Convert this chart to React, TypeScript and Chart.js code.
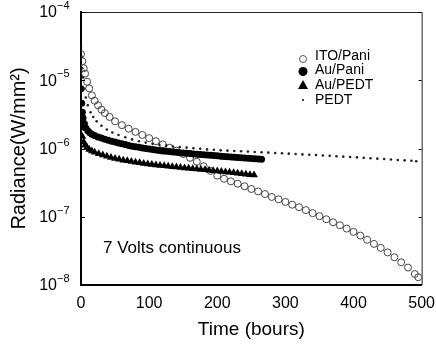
import React, { useEffect, useRef } from 'react';
import { Chart, registerables } from 'chart.js';

Chart.register(...registerables);

// ---- Data ----
const itoPaniTime = [0, 2, 4, 6, 9, 12, 16, 20, 25, 30, 35, 42, 50, 60, 70, 80, 90, 100, 110, 120, 130, 140, 150, 160, 170, 180, 190, 200, 210, 220, 230, 240, 250, 260, 270, 280, 290, 300, 310, 320, 330, 340, 350, 360, 370, 380, 390, 400, 410, 420, 430, 440, 450, 460, 470, 480, 490, 495];
const itoPaniValue = [2.4e-5, 1.9e-5, 1.5e-5, 1.25e-5, 9.5e-6, 7.6e-6, 6.0e-6, 5.0e-6, 4.3e-6, 3.7e-6, 3.3e-6, 2.9e-6, 2.5e-6, 2.2e-6, 1.95e-6, 1.75e-6, 1.58e-6, 1.42e-6, 1.28e-6, 1.15e-6, 1.03e-6, 9.3e-7, 8.3e-7, 7.3e-7, 6.4e-7, 5.5e-7, 4.7e-7, 4.0e-7, 3.6e-7, 3.3e-7, 3.05e-7, 2.8e-7, 2.55e-7, 2.35e-7, 2.15e-7, 1.95e-7, 1.8e-7, 1.65e-7, 1.5e-7, 1.38e-7, 1.25e-7, 1.13e-7, 1.02e-7, 9.2e-8, 8.3e-8, 7.5e-8, 6.7e-8, 6.0e-8, 5.3e-8, 4.6e-8, 4.0e-8, 3.5e-8, 3.0e-8, 2.55e-8, 2.15e-8, 1.8e-8, 1.45e-8, 1.3e-8];

const auPaniTime = [0, 1, 2, 3, 5, 7, 10, 13, 16, 20, 25, 30, 35, 40, 45, 50, 55, 60, 65, 70, 75, 80, 85, 90, 95, 100, 105, 110, 115, 120, 125, 130, 135, 140, 145, 150, 155, 160, 165, 170, 175, 180, 185, 190, 195, 200, 205, 210, 215, 220, 225, 230, 235, 240, 245, 250, 255, 260, 265];
const auPaniValue = [7.5e-6, 4.6e-6, 3.4e-6, 2.8e-6, 2.3e-6, 2.0e-6, 1.82e-6, 1.7e-6, 1.62e-6, 1.55e-6, 1.48e-6, 1.42e-6, 1.37e-6, 1.32e-6, 1.28e-6, 1.24e-6, 1.2e-6, 1.17e-6, 1.14e-6, 1.11e-6, 1.08e-6, 1.06e-6, 1.04e-6, 1.02e-6, 1.0e-6, 9.8e-7, 9.65e-7, 9.5e-7, 9.35e-7, 9.2e-7, 9.1e-7, 9.0e-7, 8.9e-7, 8.8e-7, 8.7e-7, 8.6e-7, 8.5e-7, 8.42e-7, 8.34e-7, 8.26e-7, 8.18e-7, 8.1e-7, 8.02e-7, 7.95e-7, 7.88e-7, 7.8e-7, 7.73e-7, 7.66e-7, 7.6e-7, 7.53e-7, 7.46e-7, 7.4e-7, 7.33e-7, 7.27e-7, 7.2e-7, 7.14e-7, 7.08e-7, 7.02e-7, 6.96e-7];

const auPedtTime = [0, 1, 2, 4, 6, 9, 12, 16, 20, 26, 32, 38, 44, 50, 56, 62, 68, 74, 80, 86, 92, 98, 104, 110, 116, 122, 128, 134, 140, 146, 152, 158, 164, 170, 176, 182, 188, 194, 200, 206, 212, 218, 224, 230, 236, 242, 248, 254];
const auPedtValue = [3.5e-6, 2.0e-6, 1.5e-6, 1.25e-6, 1.12e-6, 1.03e-6, 9.7e-7, 9.2e-7, 8.8e-7, 8.4e-7, 8.0e-7, 7.7e-7, 7.4e-7, 7.15e-7, 6.95e-7, 6.75e-7, 6.6e-7, 6.45e-7, 6.3e-7, 6.2e-7, 6.05e-7, 5.95e-7, 5.85e-7, 5.75e-7, 5.65e-7, 5.58e-7, 5.5e-7, 5.42e-7, 5.35e-7, 5.28e-7, 5.2e-7, 5.13e-7, 5.07e-7, 5.0e-7, 4.94e-7, 4.88e-7, 4.8e-7, 4.74e-7, 4.67e-7, 4.6e-7, 4.53e-7, 4.47e-7, 4.4e-7, 4.34e-7, 4.27e-7, 4.2e-7, 4.14e-7, 4.08e-7];

const pedtTime = [0, 1, 2, 3, 5, 7, 10, 14, 18, 23, 30, 38, 46, 55, 65, 75, 85, 95, 105, 115, 125, 135, 145, 155, 165, 175, 185, 195, 205, 215, 225, 235, 245, 255, 265, 275, 285, 295, 305, 315, 325, 335, 345, 355, 365, 375, 385, 395, 405, 415, 425, 435, 445, 455, 465, 475, 485, 492];
const pedtValue = [3.2e-5, 2.2e-5, 1.5e-5, 1.1e-5, 7.5e-6, 5.6e-6, 4.3e-6, 3.4e-6, 2.9e-6, 2.5e-6, 2.15e-6, 1.9e-6, 1.72e-6, 1.58e-6, 1.46e-6, 1.36e-6, 1.28e-6, 1.22e-6, 1.17e-6, 1.13e-6, 1.1e-6, 1.07e-6, 1.05e-6, 1.03e-6, 1.01e-6, 9.9e-7, 9.7e-7, 9.6e-7, 9.4e-7, 9.3e-7, 9.2e-7, 9.1e-7, 9.0e-7, 8.9e-7, 8.8e-7, 8.7e-7, 8.6e-7, 8.5e-7, 8.4e-7, 8.3e-7, 8.2e-7, 8.1e-7, 8.0e-7, 7.9e-7, 7.8e-7, 7.7e-7, 7.6e-7, 7.5e-7, 7.4e-7, 7.3e-7, 7.2e-7, 7.1e-7, 7.0e-7, 6.9e-7, 6.8e-7, 6.7e-7, 6.6e-7, 6.5e-7];

const seriesLabels = ['ITO/Pani', 'Au/Pani', 'Au/PEDT', 'PEDT'];
const xTickValues = [0, 100, 200, 300, 400, 500];
const yDecades = [-8, -7, -6, -5, -4];
const xTitle = 'Time (bours)';
const yTitle = 'Radiance(W/mm\u00B2)';
const noteText = '7 Volts continuous';

const FONT = '"Liberation Sans", Arial, Helvetica, sans-serif';

function toPoints(t: number[], v: number[]) {
  return t.map((x, i) => ({ x, y: v[i] }));
}

const decorPlugin = {
  id: 'decor',
  afterDraw(chart: any) {
    const { ctx, chartArea, scales } = chart;
    const { left, right, top, bottom } = chartArea;
    const ys = scales.y;
    ctx.save();
    // top & right frame
    ctx.strokeStyle = '#222';
    ctx.lineWidth = 1;
    ctx.beginPath();
    ctx.moveTo(left, top + 0.5);
    ctx.lineTo(right + 0.5, top + 0.5);
    ctx.lineTo(right + 0.5, bottom);
    ctx.stroke();
    // inward ticks + y labels
    ctx.fillStyle = '#000';
    ctx.strokeStyle = '#000';
    yDecades.forEach((d) => {
      const y = ys.getPixelForValue(Math.pow(10, d));
      ctx.beginPath();
      ctx.moveTo(left, Math.round(y) + 0.5);
      ctx.lineTo(left + 4, Math.round(y) + 0.5);
      ctx.moveTo(right, Math.round(y) + 0.5);
      ctx.lineTo(right - 3, Math.round(y) + 0.5);
      ctx.stroke();
      ctx.font = `16px ${FONT}`;
      ctx.textAlign = 'right';
      ctx.textBaseline = 'middle';
      ctx.fillText('10', 57, y + 1);
      ctx.font = `11px ${FONT}`;
      ctx.textAlign = 'left';
      ctx.fillText('\u2212' + Math.abs(d), 57, y - 6);
    });
    // legend
    const lx = 303;
    const rows = [56, 70, 85, 100];
    ctx.font = `14px ${FONT}`;
    ctx.textAlign = 'left';
    ctx.textBaseline = 'middle';
    rows.forEach((ry, i) => {
      ctx.fillStyle = '#000';
      ctx.fillText(seriesLabels[i], 315, ry);
    });
    // legend markers
    ctx.lineWidth = 1;
    ctx.strokeStyle = '#555';
    ctx.beginPath();
    ctx.arc(lx, 59, 3.5, 0, Math.PI * 2);
    ctx.stroke();
    ctx.fillStyle = '#000';
    ctx.beginPath();
    ctx.arc(lx, 71.5, 4.5, 0, Math.PI * 2);
    ctx.fill();
    ctx.beginPath();
    ctx.moveTo(lx, 80);
    ctx.lineTo(lx + 5, 89);
    ctx.lineTo(lx - 5, 89);
    ctx.closePath();
    ctx.fill();
    ctx.beginPath();
    ctx.arc(lx, 100, 1, 0, Math.PI * 2);
    ctx.fill();
    // annotation
    ctx.font = `17px ${FONT}`;
    ctx.textAlign = 'left';
    ctx.textBaseline = 'middle';
    ctx.fillText(noteText, 103, 248);
    ctx.restore();
  },
};

export default function App() {
  const ref = useRef<HTMLCanvasElement | null>(null);
  useEffect(() => {
    if (!ref.current) return;
    Chart.defaults.font.family = FONT;
    Chart.defaults.color = '#000';
    const chart = new Chart(ref.current, {
      type: 'scatter',
      data: {
        datasets: [
          {
            label: seriesLabels[3],
            data: toPoints(pedtTime, pedtValue),
            pointStyle: 'circle',
            pointRadius: 1.3,
            backgroundColor: '#222',
            borderColor: '#222',
            borderWidth: 0,
            showLine: false,
          },
          {
            label: seriesLabels[2],
            data: toPoints(auPedtTime, auPedtValue),
            pointStyle: 'triangle',
            pointRadius: 4.5,
            backgroundColor: '#000',
            borderColor: '#000',
            borderWidth: 0,
            showLine: false,
          },
          {
            label: seriesLabels[1],
            data: toPoints(auPaniTime, auPaniValue),
            pointStyle: 'circle',
            pointRadius: 3.5,
            backgroundColor: '#000',
            borderColor: '#000',
            borderWidth: 0,
            showLine: false,
          },
          {
            label: seriesLabels[0],
            data: toPoints(itoPaniTime, itoPaniValue),
            pointStyle: 'circle',
            pointRadius: 3.5,
            backgroundColor: 'rgba(255,255,255,0)',
            borderColor: '#444',
            borderWidth: 1,
            showLine: false,
          },
        ],
      },
      options: {
        animation: false,
        responsive: false,
        devicePixelRatio: 1,
        events: [],
        layout: { padding: { top: 12, right: 13, left: 0, bottom: 0 } },
        plugins: { legend: { display: false }, tooltip: { enabled: false } },
        scales: {
          x: {
            type: 'linear',
            min: 0,
            max: 500,
            afterBuildTicks: (s: any) => {
              s.ticks = xTickValues.map((v) => ({ value: v }));
            },
            ticks: { color: '#000', font: { size: 16, family: FONT }, padding: 1, maxRotation: 0, autoSkip: false },
            grid: { display: false },
            border: { display: true, color: '#000', width: 2 },
            title: { display: true, text: xTitle, color: '#000', font: { size: 19, family: FONT }, padding: { top: 0, bottom: 5 } },
            afterFit: (s: any) => {
              s.height = 61;
            },
          },
          y: {
            type: 'logarithmic',
            min: 1e-8,
            max: 1e-4,
            ticks: { display: false },
            grid: { display: false },
            border: { display: true, color: '#000', width: 2 },
            title: { display: true, text: yTitle, color: '#000', font: { size: 20, family: FONT }, padding: { top: 7, bottom: 0 } },
            afterFit: (s: any) => {
              s.width = 81;
            },
          },
        },
      },
      plugins: [decorPlugin],
    } as any);
    return () => chart.destroy();
  }, []);
  return (
    <div style={{ position: 'absolute', left: 0, top: 0, width: 436, height: 346, background: '#fff' }}>
      <canvas ref={ref} width={436} height={346} style={{ display: 'block', width: 436, height: 346 }} />
    </div>
  );
}
